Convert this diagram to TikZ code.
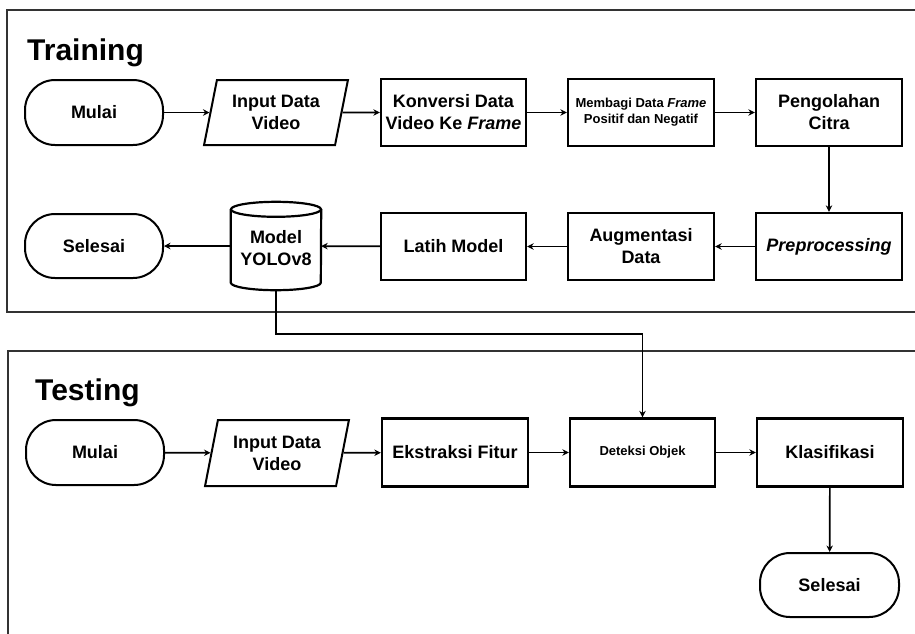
\documentclass[tikz,border=0pt]{standalone}
\usepackage{fontspec}
\setmainfont{Liberation Sans}
\usetikzlibrary{arrows.meta,shapes.geometric,shapes.misc}
\tikzset{
  frameline/.style={draw=black!80, line width=1.3pt},
  procbox/.style={draw, line width=2.3pt, rectangle, inner sep=0pt, align=center,
     font=\bfseries\fontsize{18}{22}\selectfont},
  termbox/.style={draw, line width=2pt, rectangle, rounded corners=30pt, inner sep=0pt,
     align=center, font=\bfseries\fontsize{18}{22}\selectfont, minimum width=138pt, minimum height=65pt},
  iobox/.style={draw, line width=2pt, trapezium, trapezium left angle=74.5, trapezium right angle=105.5,
     trapezium stretches=true, inner sep=0pt, align=center,
     font=\bfseries\fontsize{18}{22}\selectfont, minimum width=144pt, minimum height=65pt},
  smalltext/.style={font=\bfseries\fontsize{13}{16}\selectfont},
  flow/.style={line width=1.7pt, -{Stealth[length=6.5pt,width=6.5pt]}},
  titletext/.style={font=\bfseries\fontsize{30}{34}\selectfont, anchor=base west, inner sep=0pt}
}
\begin{document}
\begin{tikzpicture}[x=1pt,y=-1pt]
\useasboundingbox (0,0) rectangle (915,633);
\clip (0,0) rectangle (915,633);
\fill[white] (0,0) rectangle (915,633);
% frames
\draw[frameline] (7,10) rectangle (940,312);
\draw[frameline] (8,351) rectangle (940,660);
\node[titletext] (trainlbl) at (27,60) {Training};
\node[titletext] (testlbl) at (35,400) {Testing};
% training row 1
\node[termbox] (mulai1) at (94,112.5) {Mulai};
\node[iobox] (input1) at (276,112.5) {Input Data\\Video};
\node[procbox, minimum width=145pt, minimum height=67pt] (konv) at (453.5,112.5) {Konversi Data\\Video Ke \textit{Frame}};
\node[procbox, smalltext, minimum width=146pt, minimum height=67pt] (membagi) at (641,112.5) {Membagi Data \textit{Frame}\\Positif dan Negatif};
\node[procbox, minimum width=146pt, minimum height=67pt] (olah) at (829,112.5) {Pengolahan\\Citra};
% training row 2
\node[termbox, minimum height=64pt] (selesai1) at (94,246) {Selesai};
\node[inner sep=0pt, minimum width=90pt, minimum height=88pt, align=center,
      font=\bfseries\fontsize{18}{22}\selectfont] (yolo) at (276,246) {\\[-5pt]Model\\YOLOv8};
\node[procbox, minimum width=145pt, minimum height=67pt] (latih) at (453.5,246.5) {Latih Model};
\node[procbox, minimum width=146pt, minimum height=67pt] (aug) at (641,246.5) {Augmentasi\\Data};
\node[procbox, minimum width=146pt, minimum height=67pt] (prepro) at (829,246.5) {\textit{Preprocessing}};
% cylinder outline
\draw[line width=2.2pt] ([yshift=-7.5pt]yolo.north west) -- ([yshift=7.5pt]yolo.south west)
   arc[start angle=180, end angle=360, x radius=45pt, y radius=7.5pt]
   -- ([yshift=-7.5pt]yolo.north east);
\draw[line width=2.2pt] ([yshift=-7.5pt]yolo.north) ellipse[x radius=45pt, y radius=7.5pt];
% testing row
\node[termbox] (mulai2) at (95,452.5) {Mulai};
\node[iobox, minimum height=66pt] (input2) at (277,453) {Input Data\\Video};
\node[procbox, minimum width=146pt, minimum height=68pt] (ekstr) at (455,452.5) {Ekstraksi Fitur};
\node[procbox, smalltext, minimum width=145pt, minimum height=68pt] (deteksi) at (642.5,452.5) {Deteksi Objek};
\node[procbox, minimum width=146pt, minimum height=68pt] (klas) at (830,452.5) {Klasifikasi};
\node[termbox, minimum width=139pt, minimum height=64pt] (selesai2) at (829.5,585) {Selesai};
% connectors
\draw[flow] (mulai1) -- (input1);
\draw[flow] (input1) -- (konv);
\draw[flow] (konv) -- (membagi);
\draw[flow] (membagi) -- (olah);
\draw[flow] (olah) -- (prepro);
\draw[flow] (prepro) -- (aug);
\draw[flow] (aug) -- (latih);
\draw[flow] (latih) -- (yolo);
\draw[flow] (yolo) -- (selesai1);
\coordinate (bend) at (642.5,334);
\draw[flow] (yolo.south) |- (bend) -- (deteksi.north);
\draw[flow] (mulai2) -- (input2);
\draw[flow] (input2) -- (ekstr);
\draw[flow] (ekstr) -- (deteksi);
\draw[flow] (deteksi) -- (klas);
\draw[flow] (klas) -- (selesai2);
\end{tikzpicture}
\end{document}
